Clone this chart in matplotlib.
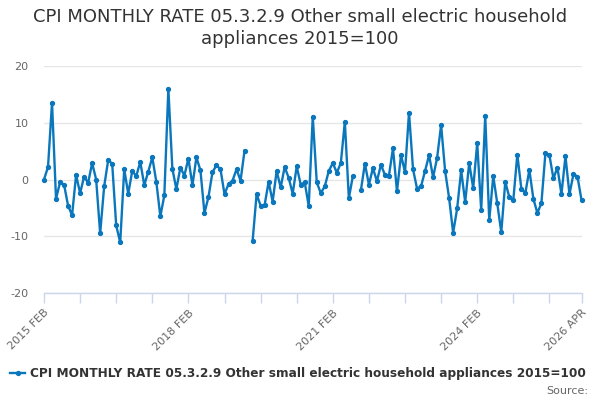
import numpy as np
import matplotlib
matplotlib.use("Agg")
import matplotlib.pyplot as plt

title = "CPI MONTHLY RATE 05.3.2.9 Other small electric household appliances 2015=100"
series_name = "CPI MONTHLY RATE 05.3.2.9 Other small electric household appliances 2015=100"

# monthly values from 2015 FEB to 2026 APR (None = missing)
values = [
    0.0, 2.2, 13.5, -3.4, -0.5, -0.9, -4.6, -6.3, 0.8, -2.4,
    0.5, -0.6, 2.9, 0.0, -9.5, -1.2, 3.4, 2.8, -8.1, -11.1,
    1.8, -2.5, 1.5, 0.6, 3.1, -1.0, 1.4, 3.9, -0.4, -6.5,
    -2.8, 16.0, 1.9, -1.7, 2.1, 0.7, 3.7, -1.0, 3.9, 1.6,
    -5.9, -3.1, 1.3, 2.5, 1.8, -2.6, -0.8, -0.2, 1.8, -0.2,
    5.1, None, -10.9, -2.6, -4.6, -4.5, -0.4, -3.9, 1.5, -1.4,
    2.2, 0.3, -2.5, 2.3, -0.9, -0.5, -4.7, 11.1, -0.5, -2.4,
    -1.2, 1.5, 2.9, 1.2, 2.9, 10.2, -3.3, 0.6, None, -1.9,
    2.8, -0.9, 2.0, -0.3, 2.6, 0.8, 0.7, 5.5, -2.1, 4.3,
    1.3, 11.8, 1.8, -1.6, -1.2, 1.5, 4.3, 0.4, 3.8, 9.6,
    1.5, -3.3, -9.4, -5.1, 1.6, -4.0, 2.9, -1.5, 6.4, -5.4,
    11.2, -7.2, 0.6, -4.2, -9.3, -0.4, -3.1, -3.6, 4.4, -1.6,
    -2.4, 1.7, -3.4, -5.9, -4.2, 4.6, 4.3, 0.2, 2.1, -2.6,
    4.1, -2.6, 1.0, 0.5, -3.6,
]
tick_months = [0, 9, 18, 27, 36, 45, 54, 63, 72, 81, 90, 99, 108, 117, 126, 134]
tick_labels = ["2015 FEB", "", "", "", "2018 FEB", "", "", "", "2021 FEB",
               "", "", "", "2024 FEB", "", "", "2026 APR"]
y_ticks = [-20, -10, 0, 10, 20]

y = np.array([np.nan if v is None else v for v in values], dtype=float)
x = np.arange(len(y))

W, H = 600, 400
fig = plt.figure(figsize=(6, 4), dpi=100)
fig.patch.set_facecolor("white")

left, right, top, bottom = 44, 581.5, 66, 293
ax = fig.add_axes([left / W, (H - bottom) / H, (right - left) / W, (bottom - top) / H])

color = "#0a77bd"
ax.plot(x, y, color=color, lw=1.7, marker="o", markersize=2.8, solid_joinstyle="round", clip_on=False, zorder=3)

ax.set_xlim(0, len(y) - 1)
ax.set_ylim(-20, 20)
ax.set_yticks(y_ticks)
ax.set_yticklabels([str(t) for t in y_ticks], fontsize=8, color="#666666")
ax.grid(axis="y", color="#e6e6e6", lw=1)
ax.set_axisbelow(True)
for s in ["top", "right", "left"]:
    ax.spines[s].set_visible(False)
ax.spines["bottom"].set_color("#ccd6eb")
ax.spines["bottom"].set_linewidth(1)
ax.tick_params(axis="y", length=0, pad=11)
ax.set_xticks(tick_months)
ax.set_xticklabels(tick_labels, rotation=45, ha="right", rotation_mode="anchor",
                   fontsize=8, color="#666666")
ax.tick_params(axis="x", length=7.5, color="#ccd6eb", width=1, pad=3)

fig.text(0.5, 1 - 17 / H, "CPI MONTHLY RATE 05.3.2.9 Other small electric household",
         ha="center", va="center", fontsize=13, color="#333333")
fig.text(0.5, 1 - 39 / H, "appliances 2015=100",
         ha="center", va="center", fontsize=13, color="#333333")

# legend
ly = 1 - 373 / H
fig.add_artist(plt.Line2D([10 / W, 25 / W], [ly, ly], color=color, lw=1.7,
                          transform=fig.transFigure))
fig.add_artist(plt.Line2D([17.5 / W], [ly], color=color, marker="o", markersize=2.8,
                          transform=fig.transFigure))
fig.text(30 / W, ly, series_name, ha="left", va="center", fontsize=8.75,
         fontweight="bold", color="#333333")
fig.text(588 / W, 1 - 391 / H, "Source:", ha="right", va="center", fontsize=8,
         color="#666666")

fig.savefig("out.png", dpi=100)
